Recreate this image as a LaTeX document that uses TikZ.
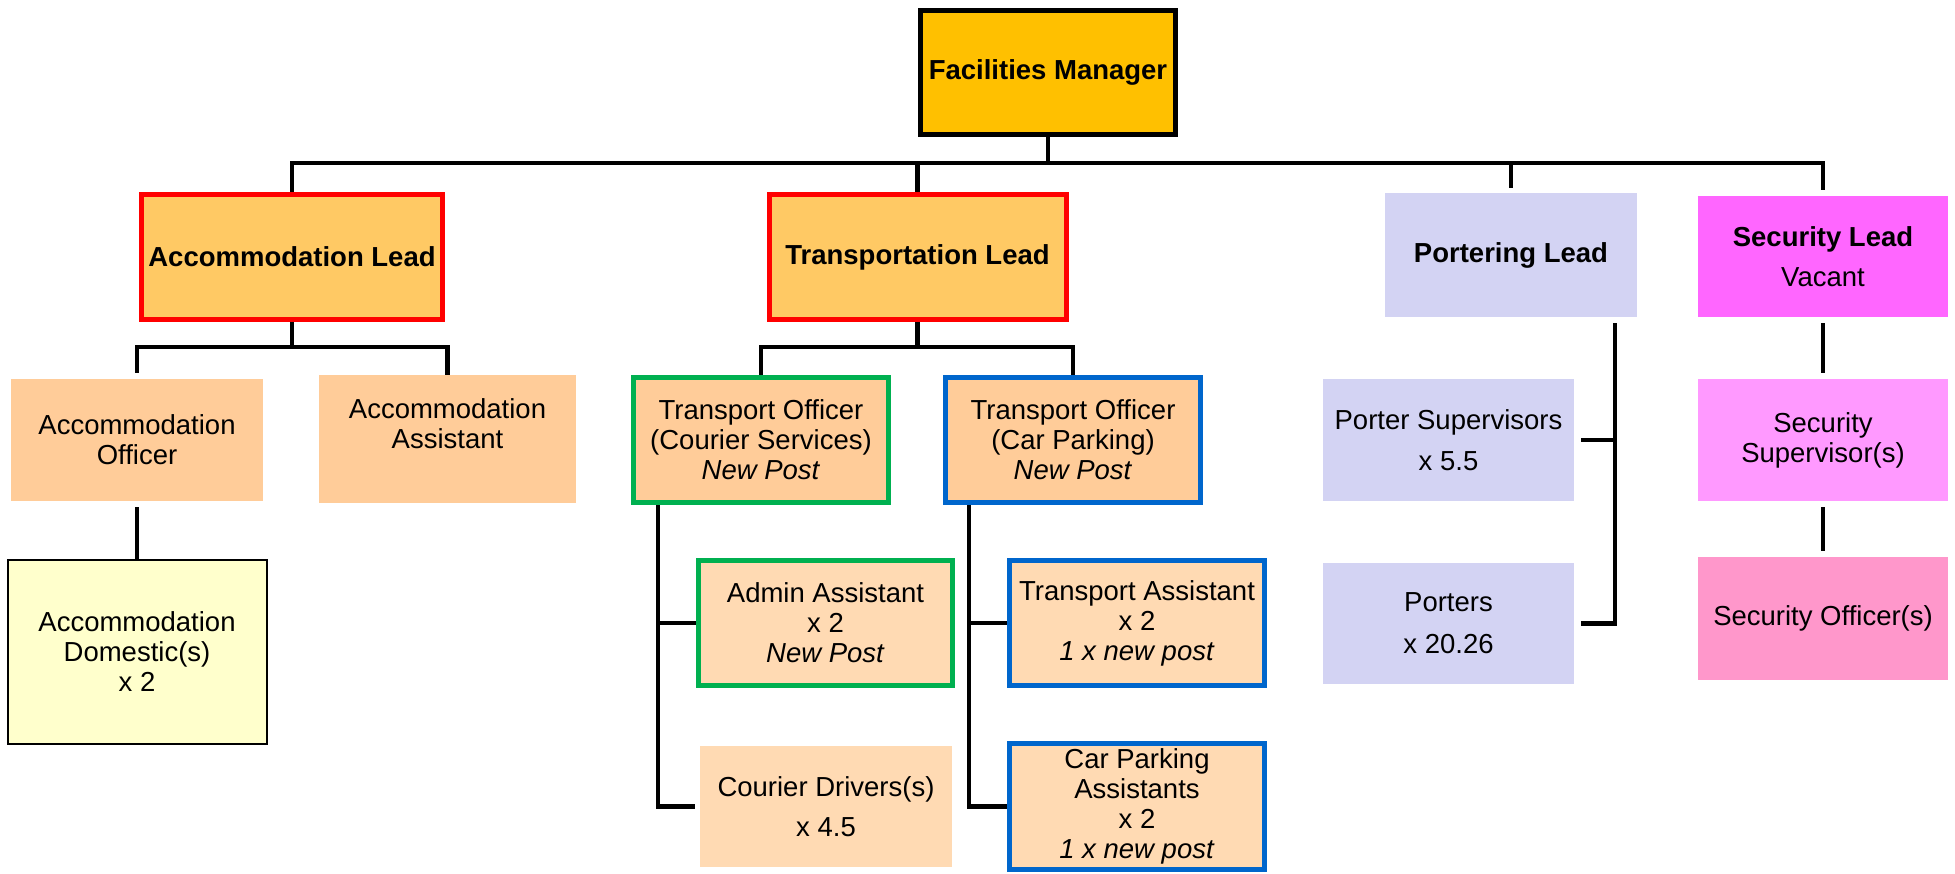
\documentclass[tikz,border=0pt]{standalone}
\usepackage{fontspec}
\setmainfont{Liberation Sans}
\usepackage{xcolor}
\usepackage{tikz}
\definecolor{CFFC000}{HTML}{FFC000}
\definecolor{CFFC964}{HTML}{FFC964}
\definecolor{CFFCC99}{HTML}{FFCC99}
\definecolor{CFFDAB3}{HTML}{FFDAB3}
\definecolor{CFFFFCC}{HTML}{FFFFCC}
\definecolor{CD3D3F3}{HTML}{D3D3F3}
\definecolor{CFF66FF}{HTML}{FF66FF}
\definecolor{CFF99FF}{HTML}{FF99FF}
\definecolor{CFF97CB}{HTML}{FF97CB}
\definecolor{CFF0000}{HTML}{FF0000}
\definecolor{C00B050}{HTML}{00B050}
\definecolor{C0066CC}{HTML}{0066CC}
\newcommand{\postfont}{\fontsize{27.5}{30}\selectfont}

\begin{document}
\begin{tikzpicture}[inner sep=0pt,
  lead/.style={align=center,font=\postfont\bfseries},
  post/.style={align=center,font=\postfont},
  redbox/.style={draw=CFF0000,line width=5pt},
  greenbox/.style={draw=C00B050,line width=5pt},
  bluebox/.style={draw=C0066CC,line width=5pt},
  link/.style={draw,line width=4.5pt}]
\useasboundingbox (0pt,0pt) rectangle (1955pt,-874pt);
% heads
\node (fm) [minimum height=124pt, minimum width=255pt,at={(1048pt,-72.5pt)}, fill=CFFC000, draw, line width=5pt, lead] {Facilities Manager};
\node (accl) [minimum height=125pt, minimum width=301pt,at={(292pt,-257pt)}, fill=CFFC964, redbox, lead] {Accommodation Lead};
\node (trl) [minimum height=125pt, minimum width=297pt,at={(917.5pt,-257pt)}, fill=CFFC964, redbox, lead] {Transportation Lead};
\node (porl) [minimum height=124pt, minimum width=252pt,at={(1511pt,-255pt)}, fill=CD3D3F3, lead] {Portering Lead};
\node (secl) [minimum height=121pt, minimum width=250pt,at={(1823pt,-256.5pt)}, fill=CFF66FF, post] {\textbf{Security Lead}\\[10pt]Vacant};
% second row
\node (acco) [minimum height=122pt, minimum width=252pt,at={(137pt,-440pt)}, fill=CFFCC99, post] {Accommodation\\Officer};
\node (acca) [minimum height=128pt, minimum width=257pt,at={(447.5pt,-439pt)}, fill=CFFCC99, post] {Accommodation\\Assistant\\~};
\node (tocs) [minimum height=125pt, minimum width=255pt,at={(761pt,-440pt)}, fill=CFFCC99, greenbox, post] {Transport Officer\\(Courier Services)\\\textit{New Post}};
\node (tocp) [minimum height=125pt, minimum width=255pt,at={(1073pt,-440pt)}, fill=CFFCC99, bluebox, post] {Transport Officer\\(Car Parking)\\\textit{New Post}};
\node (pors) [minimum height=122pt, minimum width=251pt,at={(1448.5pt,-440pt)}, fill=CD3D3F3, post] {Porter Supervisors\\[11pt]x 5.5};
\node (secs) [minimum height=122pt, minimum width=250pt,at={(1823pt,-440pt)}, fill=CFF99FF, post] {Security\\Supervisor(s)};
% third row
\node (accd) [minimum height=184pt, minimum width=259pt,at={(137pt,-652pt)}, fill=CFFFFCC, draw, line width=2pt, post] {Accommodation\\Domestic(s)\\x 2};
\node (adma) [minimum height=125pt, minimum width=254pt,at={(825.5pt,-623pt)}, fill=CFFDAB3, greenbox, post] {Admin Assistant\\x 2\\\textit{New Post}};
\node (cour) [minimum height=121pt, minimum width=252pt,at={(826pt,-806.5pt)}, fill=CFFDAB3, post] {Courier Drivers(s)\\[10pt]x 4.5};
\node (tras) [minimum height=125pt, minimum width=255pt,at={(1137pt,-623pt)}, fill=CFFDAB3, bluebox, post] {Transport Assistant\\x 2\\\textit{1 x new post}};
\node (cpas) [minimum height=126pt, minimum width=255pt,at={(1137pt,-806.5pt)}, fill=CFFDAB3, bluebox, post] {Car Parking\\Assistants\\x 2\\\textit{1 x new post}};
\node (port) [minimum height=121pt, minimum width=251pt,at={(1448.5pt,-623.5pt)}, fill=CD3D3F3, post] {Porters\\[12pt]x 20.26};
\node (seco) [minimum height=123pt, minimum width=250pt,at={(1823pt,-618.5pt)}, fill=CFF97CB, post] {Security Officer(s)};
% junctions
\coordinate (bus) at (1048pt,-163pt);
\coordinate (accj) at (292pt,-347pt);
\coordinate (trj) at (917.5pt,-347pt);
% lines
\path [link] (fm) -- (bus);
\path [link, shorten >=6pt] (accl) |- (bus) -| (secl);
\path [link] (trl) -- (trl |- bus);
\path [link, shorten >=5pt] (bus -| porl) -- (porl);
\path [link] (accl) -- (accj);
\path [link, shorten <=6pt] (acco) |- (accj) -| (acca);
\path [link] (trl) -- (trj);
\path [link] (tocs) |- (trj) -| (tocp);
\path [link, shorten <=6pt] (acco) -- (accd);
\path [link] ([xshift=27pt]tocs.south west) |- (adma);
\path [link, shorten >=5pt] ([xshift=27pt]tocs.south west) |- (cour);
\path [link] ([xshift=26pt]tocp.south west) |- (tras);
\path [link] ([xshift=26pt]tocp.south west) |- (cpas);
\path [link, shorten <=6pt, shorten >=7pt] ([xshift=-22pt]porl.south east) |- (pors);
\path [link, shorten <=6pt, shorten >=7pt] ([xshift=-22pt]porl.south east) |- (port);
\path [link, shorten <=6pt, shorten >=6pt] (secl) -- (secs);
\path [link, shorten <=6pt, shorten >=6pt] (secs) -- (seco);
\end{tikzpicture}
\end{document}
